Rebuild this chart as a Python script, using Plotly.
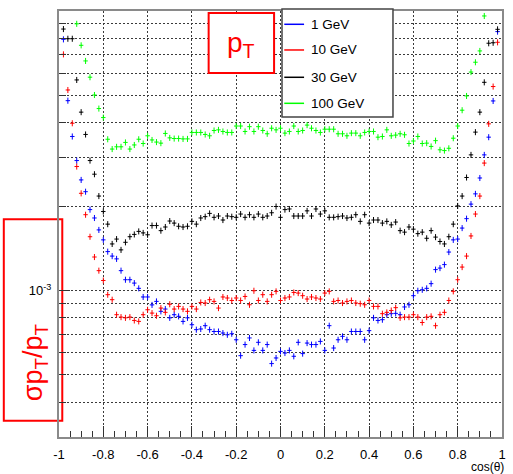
import numpy as np
import plotly.graph_objects as go

SCALE = 1e-3  # values below are in units of 1e-3

# bin centres of cos(theta)
cos_theta = [round(-0.98 + 0.02 * k, 2) for k in range(99)]

blue_1gev = [7.92, 4.78, 3.56, 2.92, 2.49, 2.26, 1.95, 1.82, 1.65, 1.52,
             1.38, 1.33, 1.30, 1.18, 1.095, 1.095, 1.065, 1.02, 0.95, 0.95,
             0.89, 0.916, 0.844, 0.86, 0.80, 0.821, 0.81, 0.777, 0.80, 0.756,
             0.726, 0.73, 0.75, 0.726, 0.715, 0.715, 0.706, 0.696, 0.702, 0.668,
             0.586, 0.642, 0.678, 0.612, 0.654, 0.612, 0.642, 0.549, 0.575, 0.607,
             0.599, 0.612, 0.583, 0.654, 0.596, 0.65, 0.642, 0.642, 0.659, 0.612,
             0.75, 0.624, 0.668, 0.687, 0.668, 0.715, 0.715, 0.715, 0.668, 0.72,
             0.80, 0.783, 0.788, 0.821, 0.828, 0.83, 0.821, 0.875, 0.891, 0.96,
             1.0, 1.008, 1.02, 1.06, 1.19, 1.205, 1.24, 1.375, 1.52, 1.53,
             1.675, 1.81, 2.04, 2.22, 2.53, 3.06, 3.54, 4.77, 8.44]

red_10gev = [7.0, 5.22, 3.97, 2.78, 2.23, 1.87, 1.56, 1.32, 1.18, 1.088,
             0.968, 0.929, 0.821, 0.805, 0.80, 0.805, 0.783, 0.777, 0.821, 0.855,
             0.832, 0.814, 0.867, 0.837, 0.895, 0.86, 0.879, 0.86, 0.844, 0.879,
             0.86, 0.908, 0.904, 0.929, 0.916, 0.867, 0.95, 0.942, 0.923, 0.942,
             0.923, 0.954, 0.891, 1.0, 0.923, 0.968, 0.916, 0.968, 0.995, 0.923,
             0.942, 0.95, 0.986, 0.981, 0.96, 0.934, 0.95, 0.942, 0.934, 0.981,
             0.995, 0.916, 0.923, 0.904, 0.916, 0.923, 0.904, 0.899, 0.891, 0.923,
             0.879, 0.879, 0.828, 0.837, 0.85, 0.87, 0.80, 0.805, 0.805, 0.821,
             0.805, 0.77, 0.805, 0.81, 0.75, 0.821, 0.837, 0.923, 0.995, 1.095,
             1.215, 1.33, 1.57, 1.88, 2.18, 2.86, 3.95, 5.37, 7.73]

black_30gev = [8.62, 7.96, 7.96, 5.67, 4.35, 3.62, 2.92, 2.61, 2.18, 1.92,
               1.73, 1.47, 1.53, 1.40, 1.49, 1.56, 1.59, 1.63, 1.61, 1.585,
               1.71, 1.71, 1.64, 1.69, 1.775, 1.745, 1.70, 1.69, 1.70, 1.77,
               1.73, 1.82, 1.84, 1.89, 1.83, 1.85, 1.79, 1.85, 1.84, 1.83,
               1.88, 1.83, 1.87, 1.83, 1.88, 1.83, 1.85, 1.90, 2.0, 1.83,
               1.95, 1.96, 1.85, 1.85, 1.85, 1.93, 1.85, 1.96, 1.88, 1.93,
               1.83, 1.83, 1.84, 1.85, 1.82, 1.83, 1.87, 1.77, 1.87, 1.745,
               1.79, 1.79, 1.745, 1.77, 1.72, 1.76, 1.64, 1.62, 1.69, 1.66,
               1.60, 1.62, 1.54, 1.64, 1.555, 1.50, 1.47, 1.56, 1.73, 2.01,
               2.18, 2.54, 3.06, 3.69, 4.35, 5.56, 7.67, 7.7, 8.6]

# 100 GeV: only bins 4..96 lie inside the frame
green_first, green_last = 3, 96
green_100gev = [9.0, 7.54, 6.63, 5.80, 5.01, 4.48, 4.16, 3.48, 3.21, 3.27,
                3.27, 3.39, 3.21, 3.32, 3.48, 3.36, 3.58, 3.46, 3.40, 3.37,
                3.65, 3.52, 3.50, 3.50, 3.49, 3.49, 3.68, 3.68, 3.68, 3.62,
                3.58, 3.74, 3.76, 3.71, 3.68, 3.68, 3.88, 3.88, 3.71, 3.86,
                3.71, 3.86, 3.74, 3.64, 3.81, 3.76, 3.81, 3.66, 3.71, 3.88,
                3.71, 3.74, 3.91, 3.81, 3.74, 3.68, 3.78, 3.78, 3.78, 3.64,
                3.64, 3.58, 3.66, 3.66, 3.58, 3.68, 3.71, 3.71, 3.54, 3.56,
                3.76, 3.58, 3.60, 3.64, 3.61, 3.36, 3.43, 3.56, 3.36, 3.37,
                3.28, 3.44, 3.19, 3.17, 3.23, 3.51, 3.88, 4.42, 4.97, 6.05,
                6.56, 7.2, 9.6]

legend_labels = ["1 GeV", "10 GeV", "30 GeV", "100 GeV"]
colors = ["#0000ff", "#ff0000", "#000000", "#00ff00"]

x_half_bin = 0.01
y_err_percent = 2.5

x_tick_vals = [-1, -0.8, -0.6, -0.4, -0.2, 0, 0.2, 0.4, 0.6, 0.8, 1]
x_tick_text = ["-1", "-0.8", "-0.6", "-0.4", "-0.2", "0",
               "0.2", "0.4", "0.6", "0.8", "1"]
y_major_vals = [1e-3]
y_major_text = ["10<sup>-3</sup>"]
y_minor_vals = [3e-4, 4e-4, 5e-4, 6e-4, 7e-4, 8e-4, 9e-4,
                2e-3, 3e-3, 4e-3, 5e-3, 6e-3, 7e-3, 8e-3, 9e-3]

series = [
    (cos_theta, blue_1gev, colors[0]),
    (cos_theta, red_10gev, colors[1]),
    (cos_theta, black_30gev, colors[2]),
    (cos_theta[green_first:green_last], green_100gev, colors[3]),
]

FONT = "Liberation Sans, Arial, sans-serif"

fig = go.Figure()
for xs, vals, col in series:
    fig.add_trace(go.Scatter(
        x=xs, y=[v * SCALE for v in vals], mode="markers",
        marker=dict(size=1, color=col),
        error_x=dict(type="constant", value=x_half_bin, thickness=1, width=0, color=col),
        error_y=dict(type="percent", value=y_err_percent, thickness=1, width=0, color=col),
        showlegend=False, hoverinfo="skip",
    ))

grid_dash = "2px,2px"
grid_col = "#3a3a3a"

fig.update_layout(
    width=513, height=474,
    margin=dict(l=59, r=7, t=11, b=37),
    paper_bgcolor="white", plot_bgcolor="rgba(0,0,0,0)",
    font=dict(family=FONT, size=13, color="black"),
    xaxis=dict(
        range=[-1, 1], tickmode="array", tickvals=x_tick_vals, ticktext=x_tick_text,
        ticks="inside", ticklen=11, tickcolor="#333", tickwidth=1,
        showline=True, linecolor="#8a8a8a", linewidth=2, mirror=True,
        showgrid=True, gridcolor=grid_col, griddash=grid_dash, gridwidth=1,
        zeroline=False, ticklabelstandoff=4,
        tickfont=dict(family=FONT, size=13),
        minor=dict(dtick=0.05, tick0=-1, ticks="inside", ticklen=6, tickcolor="#333",
                   showgrid=False),
    ),
    yaxis=dict(
        type="log", range=[np.log10(3e-4), -2],
        tickmode="array", tickvals=y_major_vals, ticktext=y_major_text,
        ticks="inside", ticklen=11, tickcolor="#333", tickwidth=1,
        showline=True, linecolor="#8a8a8a", linewidth=2, mirror=True,
        showgrid=True, gridcolor=grid_col, griddash=grid_dash, gridwidth=1,
        zeroline=False, ticklabelstandoff=3,
        tickfont=dict(family=FONT, size=13),
        minor=dict(tickmode="array", tickvals=y_minor_vals, ticks="inside", ticklen=7,
                   tickcolor="#333", showgrid=True, gridcolor=grid_col,
                   griddash=grid_dash, gridwidth=1),
    ),
)

shapes = []
annotations = []

# y-axis title box
shapes.append(dict(type="rect", xref="paper", yref="paper",
                   x0=-0.1246, x1=0.0074, y0=0.0383, y1=0.511,
                   line=dict(color="#ff0000", width=2), fillcolor="white", layer="below"))
annotations.append(dict(xref="paper", yref="paper", x=-0.0537, y=0.176,
                        text="\u03c3p<sub>T</sub>/p<sub>T</sub>", textangle=-90,
                        showarrow=False, xanchor="center", yanchor="middle",
                        font=dict(family=FONT, size=27, color="#ff0000")))

# pT label box
shapes.append(dict(type="rect", xref="paper", yref="paper",
                   x0=0.3378, x1=0.4855, y0=0.8545, y1=0.9953,
                   line=dict(color="#ff0000", width=2), fillcolor="white", layer="above"))
annotations.append(dict(xref="paper", yref="paper", x=0.4116, y=0.9202,
                        text="p<sub>T</sub>", showarrow=False,
                        xanchor="center", yanchor="middle",
                        font=dict(family=FONT, size=28, color="#ff0000")))

# legend
shapes.append(dict(type="rect", xref="paper", yref="paper",
                   x0=0.5034, x1=0.7539, y0=0.7512, y1=1.0047,
                   line=dict(color="#444444", width=1.5), fillcolor="white", layer="above"))
row_y = [0.9688, 0.9085, 0.8444, 0.7833]
for lab, col, yy in zip(legend_labels, colors, row_y):
    shapes.append(dict(type="line", xref="paper", yref="paper",
                       x0=0.5085, x1=0.5532, y0=yy, y1=yy,
                       line=dict(color=col, width=1.5), layer="above"))
    annotations.append(dict(xref="paper", yref="paper", x=0.5638, y=yy,
                            text=lab, showarrow=False, xanchor="left", yanchor="middle",
                            font=dict(family=FONT, size=13.5, color="black")))

# x-axis title
annotations.append(dict(xref="paper", yref="paper", x=1.006, y=-0.070,
                        text="cos(\u03b8)", showarrow=False, xanchor="right", yanchor="middle",
                        borderpad=0,
                        font=dict(family=FONT, size=12, color="black")))

fig.update_layout(shapes=shapes, annotations=annotations)
fig.write_html("out.html")
